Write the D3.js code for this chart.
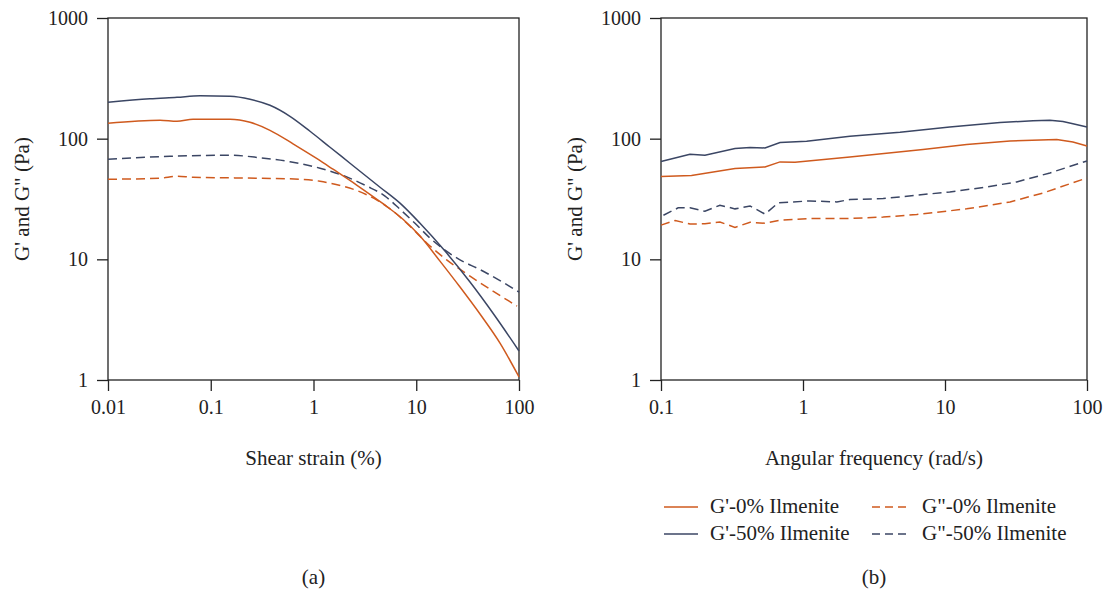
<!DOCTYPE html>
<html><head><meta charset="utf-8">
<script src="https://cdn.jsdelivr.net/npm/d3@7"></script>
<style>body{margin:0;background:#fff}svg{display:block}text{font-family:"Liberation Serif","Times New Roman",serif;fill:#222}</style>
</head><body>
<svg id="c" width="1106" height="590"></svg>
<script>
// ---- data ----
const yTicks = [1, 10, 100, 1000];
const strainTicks = [0.01, 0.1, 1, 10, 100];
const freqTicks = [0.1, 1, 10, 100];
const seriesNames = ["G'-0% Ilmenite", "G'-50% Ilmenite", "G\"-0% Ilmenite", "G\"-50% Ilmenite"];

// (a) strain sweep: [strain %, modulus Pa]
const strainG1_0 = [[0.01,134.1],[0.0321,142],[0.0469,139.3],[0.0672,144.7],[0.154,144.7],[0.241,136.7],[0.377,117.3],[0.632,90.7],[1.082,68.2],[1.548,55.8],[2.651,41.1],[4.748,28.9],[7.43,21.5],[10.88,15.6],[17.02,9.66],[26.66,5.89],[41.73,3.52],[65.33,2.02],[100,1.06]];
const strainG1_50 = [[0.01,200.1],[0.0256,214],[0.0469,220.2],[0.0786,226.5],[0.154,224.4],[0.241,212],[0.377,189],[0.59,153.2],[0.925,115.2],[1.448,84.9],[2.266,62.6],[4.439,39.6],[6.947,29.2],[10.88,19.9],[19.05,11.7],[33.36,6.48],[58.39,3.39],[100,1.74]];
const strainG2_0 = [[0.01,46.1],[0.0321,47],[0.0469,48.8],[0.0672,47.9],[0.3015,47],[0.7389,46.1],[1.157,44.4],[1.619,41.9],[2.651,37.1],[4.15,30.9],[5.939,25.1],[8.694,18.8],[12.72,13.6],[19.92,9.85],[33.36,7.26],[55.84,5.46],[95.6,4.1]];
const strainG2_50 = [[0.01,67.5],[0.0401,71.5],[0.154,72.9],[0.3015,69.5],[0.5905,64.4],[1.157,56.9],[2.026,48.8],[3.317,40.4],[4.965,33.4],[6.947,26],[9.723,19.9],[13.61,15],[19.05,11.9],[26.66,9.9],[41.73,8.22],[65.33,6.66],[100,5.35]];

// (b) frequency sweep: [rad/s, modulus Pa]
const freqG1_0 = [[0.1,48.6],[0.164,49.5],[0.332,56.5],[0.54,58.3],[0.689,64.2],[0.879,63.8],[2.14,70.6],[7.0,81.3],[14.2,89.4],[28.7,95.7],[61.2,98.3],[79.6,94],[100,87]];
const freqG1_50 = [[0.1,64.6],[0.16,74.3],[0.204,72.9],[0.332,82.8],[0.424,84.4],[0.54,83.8],[0.689,92.9],[1.06,95.1],[2.14,104.7],[4.82,113],[10.8,125],[24.4,136],[41.7,141],[54.8,142],[67.7,139],[79.6,133],[100,125]];
const freqG2_0 = [[0.1,19.2],[0.126,21],[0.16,19.6],[0.204,19.7],[0.26,20.4],[0.332,18.4],[0.424,20.3],[0.54,19.9],[0.689,21.1],[1.12,21.8],[2.14,21.8],[3.67,22.4],[6.32,23.5],[14.2,26.2],[28.7,29.9],[49.2,35.5],[100,47.3]];
const freqG2_50 = [[0.104,23.2],[0.132,26.7],[0.16,26.7],[0.204,25],[0.26,28.1],[0.332,26.2],[0.424,27.7],[0.54,23.7],[0.67,29.4],[1.12,30.5],[1.73,29.9],[2.14,31.3],[3.67,31.9],[6.32,34],[10.8,36.2],[18.6,39.4],[32,43.8],[54.8,52],[100,65.4]];

const ORANGE = "#cf5a1e", NAVY = "#3b4664";
const FONT = "Liberation Serif";
const svg = d3.select("#c");

function panel(x0, x1, xDomain, xTickVals, xTitle, letter, series, curve) {
  const top = 18, bot = 380;
  const x = d3.scaleLog().domain(xDomain).range([x0, x1]);
  const y = d3.scaleLog().domain([1, 1000]).range([bot, top]);
  const g = svg.append("g");
  g.append("rect").attr("x", x0).attr("y", top).attr("width", x1 - x0).attr("height", bot - top)
    .attr("fill", "none").attr("stroke", "#222").attr("stroke-width", 1.3);
  const ya = g.append("g").attr("transform", `translate(${x0},0)`)
    .call(d3.axisLeft(y).tickValues(yTicks).tickFormat(d3.format("d")).tickSize(11).tickPadding(9));
  ya.select(".domain").remove();
  ya.selectAll("line").attr("stroke", "#222").attr("stroke-width", 1.3);
  ya.selectAll("text").attr("font-size", 20).attr("font-family", FONT).attr("fill", "#222");
  const xa = g.append("g").attr("transform", `translate(0,${bot})`)
    .call(d3.axisBottom(x).tickValues(xTickVals).tickFormat(d => String(d)).tickSize(11).tickPadding(9));
  xa.select(".domain").remove();
  xa.selectAll("line").attr("stroke", "#222").attr("stroke-width", 1.3);
  xa.selectAll("text").attr("font-size", 20).attr("font-family", FONT).attr("fill", "#222");
  const cx = (x0 + x1) / 2;
  g.append("text").attr("x", cx).attr("y", 465).attr("text-anchor", "middle").attr("font-size", 21).text(xTitle);
  g.append("text").attr("x", cx).attr("y", 584).attr("text-anchor", "middle").attr("font-size", 21).text(letter);
  g.append("text").attr("transform", `translate(${x0 - 79},199) rotate(-90)`).attr("text-anchor", "middle")
    .attr("font-size", 21).text("G' and G\" (Pa)");
  const line = d3.line().x(d => x(d[0])).y(d => y(d[1])).curve(curve);
  series.forEach(s => {
    g.append("path").attr("d", line(s.data)).attr("fill", "none").attr("stroke", s.color)
      .attr("stroke-width", 1.5).attr("stroke-dasharray", s.dash ? "9,5" : null);
  });
}

panel(108, 519, [0.01, 100], strainTicks, "Shear strain (%)", "(a)", [
  {data: strainG2_0, color: ORANGE, dash: true},
  {data: strainG2_50, color: NAVY, dash: true},
  {data: strainG1_0, color: ORANGE, dash: false},
  {data: strainG1_50, color: NAVY, dash: false}
], d3.curveMonotoneX);

panel(661, 1087, [0.1, 100], freqTicks, "Angular frequency (rad/s)", "(b)", [
  {data: freqG2_0, color: ORANGE, dash: true},
  {data: freqG2_50, color: NAVY, dash: true},
  {data: freqG1_0, color: ORANGE, dash: false},
  {data: freqG1_50, color: NAVY, dash: false}
], d3.curveLinear);

const leg = [
  {name: seriesNames[0], color: ORANGE, dash: false, x: 664, y: 507},
  {name: seriesNames[2], color: ORANGE, dash: true, x: 872, y: 507},
  {name: seriesNames[1], color: NAVY, dash: false, x: 664, y: 534},
  {name: seriesNames[3], color: NAVY, dash: true, x: 872, y: 534}
];
leg.forEach(l => {
  svg.append("line").attr("x1", l.x).attr("x2", l.x + 34).attr("y1", l.y).attr("y2", l.y)
    .attr("stroke", l.color).attr("stroke-width", 1.6).attr("stroke-dasharray", l.dash ? "8,5" : null);
  svg.append("text").attr("x", l.x + (l.dash ? 50 : 46)).attr("y", l.y + 6).attr("font-size", 21).text(l.name);
});
</script>
</body></html>
